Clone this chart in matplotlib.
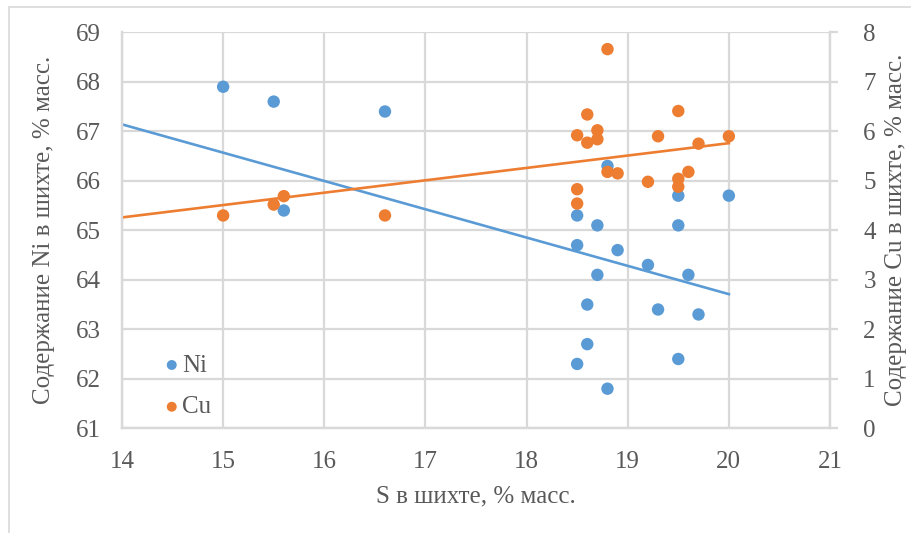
import numpy as np
import matplotlib
matplotlib.use("Agg")
import matplotlib.pyplot as plt
from matplotlib.patches import Rectangle

# Sulfur content in the charge, % mass
s_content = [15.0, 15.5, 15.6, 16.6, 18.5, 18.5, 18.5, 18.6, 18.6, 18.7, 18.7,
             18.8, 18.8, 18.9, 19.2, 19.3, 19.5, 19.5, 19.5, 19.6, 19.7, 20.0]
# Nickel content, % mass (left axis)
ni_content = [67.9, 67.6, 65.4, 67.4, 65.3, 64.7, 62.3, 63.5, 62.7, 65.1, 64.1,
              66.3, 61.8, 64.6, 64.3, 63.4, 65.7, 65.1, 62.4, 64.1, 63.3, 65.7]
# Copper content, % mass (right axis)
cu_content = [4.3, 4.52, 4.69, 4.3, 5.92, 4.83, 4.54, 6.34, 5.77, 6.02, 5.84,
              7.66, 5.18, 5.15, 4.98, 5.90, 6.41, 5.04, 4.88, 5.18, 5.75, 5.90]

# Linear trend lines (values at the ends of the trend range)
trend_s = [14.0, 20.0]
ni_trend = [67.14, 63.71]
cu_trend = [4.26, 5.76]

x_ticks = [14, 15, 16, 17, 18, 19, 20, 21]
ni_ticks = [61, 62, 63, 64, 65, 66, 67, 68, 69]
cu_ticks = [0, 1, 2, 3, 4, 5, 6, 7, 8]

BLUE = "#5B9BD5"
ORANGE = "#ED7D31"
GRID = "#D9D9D9"
TEXT = "#595959"
FONT = "Liberation Serif"
FS = 18

plt.rcParams["font.family"] = [FONT, "DejaVu Serif"]

fig = plt.figure(figsize=(9.12, 5.33), dpi=100)
fig.patches.append(Rectangle((9 / 912, -0.1), 1.2, 1 - 7 / 533 + 0.1,
                             transform=fig.transFigure, fill=False,
                             edgecolor=GRID, linewidth=1.2))

ax = fig.add_axes([122 / 912, 1 - 428.3 / 533, (830 - 122) / 912, (428.3 - 32.3) / 533])
ax2 = ax.twinx()

ax.set_xlim(14, 21)
ax.set_ylim(61, 69)
ax2.set_ylim(0, 8)
ax.set_xticks(x_ticks)
ax.set_yticks(ni_ticks)
ax2.set_yticks(cu_ticks)

ax.grid(True, color=GRID, linewidth=1.6)
ax.set_axisbelow(True)

for a in (ax, ax2):
    for side, sp in a.spines.items():
        sp.set_color(GRID)
        sp.set_linewidth(1.6)
    a.spines["top"].set_visible(False)

ax.tick_params(axis="both", length=0, labelsize=FS, labelcolor=TEXT)
ax.tick_params(axis="x", pad=16)
ax.tick_params(axis="y", pad=15)
ax2.tick_params(axis="y", length=6, width=1.6, color=GRID, labelsize=FS,
                labelcolor=TEXT, pad=18)

ax.plot(trend_s, ni_trend, color=BLUE, linewidth=1.9, zorder=2)
ax2.plot(trend_s, cu_trend, color=ORANGE, linewidth=1.9, zorder=2)

ax.scatter(s_content, ni_content, s=80, color=BLUE, edgecolors="none", zorder=3, label="Ni")
ax2.scatter(s_content, cu_content, s=80, color=ORANGE, edgecolors="none", zorder=3, label="Cu")

h1, l1 = ax.get_legend_handles_labels()
h2, l2 = ax2.get_legend_handles_labels()
leg = ax2.legend(h1 + h2, l1 + l2, loc="lower left", bbox_to_anchor=(0.042, 0.0),
                 frameon=False, fontsize=FS, handletextpad=0.0, labelspacing=0.77,
                 handlelength=0.8, markerscale=0.8, borderaxespad=0.0)
for t in leg.get_texts():
    t.set_color(TEXT)

fig.text(476 / 912, 1 - 496 / 533, "S в шихте, % масс.", ha="center", va="center",
         fontsize=FS, color=TEXT)
fig.text(44 / 912, 1 - 230 / 533, "Содержание Ni в шихте, % масс.", ha="center",
         va="center", rotation=90, fontsize=FS, color=TEXT)
fig.text(896 / 912, 1 - 230 / 533, "Содержание Cu в шихте, % масс.", ha="center",
         va="center", rotation=90, fontsize=FS, color=TEXT)

fig.savefig("out.png", dpi=100)
